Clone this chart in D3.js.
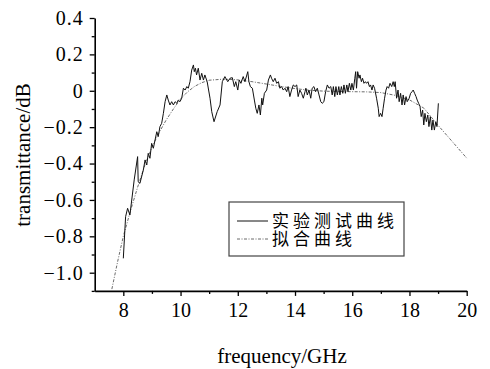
<!DOCTYPE html>
<html>
<head>
<meta charset="utf-8">
<script src="https://cdn.jsdelivr.net/npm/d3@7"></script>
<style>
  body { margin: 0; background: #fff; }
  svg { display: block; }
  .axis path, .axis line { stroke: #000; }
</style>
</head>
<body>
<svg id="chart" width="490" height="369"></svg>
<script>
// measured transmittance (GHz, dB)
const measFreq = [8.00, 8.08, 8.15, 8.23, 8.38, 8.50, 8.52, 8.58, 8.70, 8.76, 8.82, 8.87, 8.93, 8.99, 9.05, 9.11,
    9.17, 9.22, 9.28, 9.34, 9.40, 9.46, 9.52, 9.57, 9.63, 9.69, 9.75, 9.81, 9.87, 9.92, 9.98, 10.04,
    10.10, 10.16, 10.22, 10.27, 10.33, 10.39, 10.45, 10.48, 10.52, 10.56, 10.62, 10.68, 10.74, 10.80, 10.85, 10.93,
    11.03, 11.09, 11.17, 11.28, 11.38, 11.46, 11.55, 11.65, 11.73, 11.81, 11.88, 11.93, 12.00, 12.05, 12.11, 12.19,
    12.25, 12.35, 12.39, 12.44, 12.51, 12.58, 12.63, 12.68, 12.74, 12.79, 12.84, 12.87, 12.93, 13.01, 13.07, 13.14,
    13.18, 13.24, 13.30, 13.36, 13.42, 13.47, 13.53, 13.59, 13.65, 13.71, 13.76, 13.82, 13.88, 13.94, 14.00, 14.06,
    14.11, 14.17, 14.23, 14.29, 14.35, 14.38, 14.43, 14.49, 14.55, 14.60, 14.66, 14.72, 14.78, 14.84, 14.90, 14.95,
    15.01, 15.07, 15.13, 15.19, 15.25, 15.30, 15.34, 15.39, 15.43, 15.48, 15.53, 15.57, 15.62, 15.67, 15.71, 15.76,
    15.81, 15.85, 15.90, 15.95, 15.99, 16.04, 16.09, 16.12, 16.15, 16.19, 16.24, 16.27, 16.32, 16.36, 16.41, 16.46,
    16.50, 16.55, 16.60, 16.64, 16.69, 16.73, 16.78, 16.85, 16.91, 16.94, 16.99, 17.04, 17.08, 17.13, 17.18, 17.22,
    17.27, 17.32, 17.38, 17.43, 17.47, 17.50, 17.55, 17.60, 17.64, 17.69, 17.74, 17.78, 17.83, 17.88, 17.92, 17.99,
    18.04, 18.09, 18.13, 18.18, 18.23, 18.27, 18.32, 18.37, 18.41, 18.46, 18.50, 18.54, 18.59, 18.64, 18.68, 18.73,
    18.78, 18.82, 18.87, 18.92, 18.96, 19.01];
const measValue = [-0.921, -0.692, -0.646, -0.683, -0.490, -0.362, -0.500, -0.509, -0.435, -0.380, -0.408, -0.344, -0.371, -0.289, -0.316, -0.270,
    -0.225, -0.252, -0.197, -0.179, -0.124, -0.060, -0.023, -0.051, -0.078, -0.060, -0.078, -0.060, -0.069, -0.051, -0.060, -0.041,
    0.014, 0.004, 0.023, 0.014, 0.050, 0.114, 0.142, 0.105, 0.124, 0.087, 0.124, 0.059, 0.096, 0.059, 0.087, 0.050,
    -0.041, -0.115, -0.170, -0.115, -0.078, 0.050, 0.078, 0.050, 0.069, 0.072, 0.023, 0.050, 0.004, 0.059, 0.041, 0.078,
    0.050, 0.105, 0.050, 0.023, 0.014, -0.051, -0.096, -0.124, -0.078, -0.133, -0.041, -0.078, -0.014, 0.004, 0.059, 0.087,
    0.069, 0.050, 0.069, 0.041, 0.050, 0.014, 0.023, 0.004, 0.014, -0.005, 0.023, -0.032, 0.004, 0.032, 0.023, 0.032,
    -0.032, 0.004, -0.014, -0.041, -0.005, 0.014, -0.023, 0.004, -0.041, 0.014, 0.023, -0.005, 0.014, -0.023, -0.060, -0.069,
    -0.060, -0.005, 0.032, 0.014, 0.023, -0.023, 0.023, -0.032, 0.023, -0.023, 0.023, -0.023, 0.023, -0.014, 0.032, -0.014,
    0.032, -0.005, 0.041, 0.004, 0.041, 0.004, 0.069, 0.105, 0.014, 0.105, 0.069, 0.087, 0.050, 0.069, 0.041, 0.050,
    0.041, 0.050, 0.023, 0.032, 0.004, 0.032, 0.014, -0.041, -0.096, -0.142, -0.124, -0.142, -0.096, -0.041, 0.004, 0.023,
    0.014, 0.041, 0.023, 0.050, 0.023, 0.050, -0.041, 0.004, -0.060, -0.014, -0.078, -0.023, -0.078, -0.032, -0.060, -0.041,
    -0.014, -0.005, 0.004, -0.014, -0.032, -0.051, -0.069, -0.087, -0.142, -0.106, -0.188, -0.124, -0.170, -0.133, -0.197, -0.142,
    -0.216, -0.161, -0.216, -0.170, -0.197, -0.069];

// fitted curve
const fitFreq = [7.6, 7.8, 8.0, 8.25, 8.5, 8.75, 9.0, 9.25, 9.5, 9.75, 10.0, 10.25, 10.5, 10.75, 11.0, 11.5, 12.0,
    12.5, 13.0, 13.5, 14.0, 14.5, 15.0, 15.5, 16.0, 16.5, 17.0, 17.5, 18.0, 18.5, 19.0, 19.5, 20.0];
const fitValue = [-1.09, -0.94, -0.80, -0.66, -0.53, -0.41, -0.31, -0.23, -0.16, -0.10, -0.045, -0.005, 0.025, 0.045, 0.058, 0.064, 0.06,
    0.05, 0.037, 0.024, 0.012, 0.003, -0.002, -0.004, -0.005, -0.006, -0.01, -0.025, -0.05, -0.095, -0.19, -0.28, -0.37];

const xTicks = [8, 10, 12, 14, 16, 18, 20];
const xMinor = [9, 11, 13, 15, 17, 19];
const yTicks = [0.4, 0.2, 0, -0.2, -0.4, -0.6, -0.8, -1.0];
const yTickLabels = ["0.4", "0.2", "0", "\u22120.2", "\u22120.4", "\u22120.6", "\u22120.8", "\u22121.0"];
const yMinor = [0.3, 0.1, -0.1, -0.3, -0.5, -0.7, -0.9, -1.1];
const legendNames = ["实验测试曲线", "拟合曲线"];

const serif = "'Liberation Serif', 'Times New Roman', 'DejaVu Serif', serif";

const svg = d3.select("#chart");

const xScale = d3.scaleLinear().domain([7, 20]).range([94.7, 466.7]);
const yScale = d3.scaleLinear().domain([-1.1, 0.4]).range([290.9, 18]);

const line = (xs, ys) => d3.line()
    .x((d, i) => xScale(xs[i]))
    .y((d, i) => yScale(ys[i]))(xs);

// minor ticks
svg.append("g")
    .attr("class", "axis")
    .attr("transform", `translate(0,${yScale(-1.1)})`)
    .call(d3.axisBottom(xScale).tickValues(xMinor).tickSize(3).tickSizeOuter(0).tickFormat(""))
    .call(g => g.select(".domain").remove())
    .selectAll("line").attr("stroke-width", 1.3);

svg.append("g")
    .attr("class", "axis")
    .attr("transform", `translate(${xScale(7)},0)`)
    .call(d3.axisLeft(yScale).tickValues(yMinor).tickSize(3).tickSizeOuter(0).tickFormat(""))
    .call(g => g.select(".domain").remove())
    .selectAll("line").attr("stroke-width", 1.3);

// major axes
const xAxis = svg.append("g")
    .attr("class", "axis")
    .attr("transform", `translate(0,${yScale(-1.1)})`)
    .call(d3.axisBottom(xScale).tickValues(xTicks).tickSize(5).tickSizeOuter(0).tickPadding(7));
xAxis.select(".domain").attr("stroke-width", 1.6);
xAxis.selectAll("line").attr("stroke-width", 1.3);

const yAxis = svg.append("g")
    .attr("class", "axis")
    .attr("transform", `translate(${xScale(7)},0)`)
    .call(d3.axisLeft(yScale).tickValues(yTicks).tickSize(5).tickSizeOuter(0).tickPadding(6)
        .tickFormat((d, i) => yTickLabels[i]));
yAxis.select(".domain").attr("stroke-width", 1.6);
yAxis.selectAll("line").attr("stroke-width", 1.3);

svg.selectAll(".axis")
    .attr("font-family", serif)
    .attr("font-size", 20);
svg.selectAll(".axis text")
    .style("font-family", serif)
    .style("font-size", "20px")
    .attr("fill", "#000");
yAxis.selectAll("text").style("letter-spacing", "1px");

// curves
svg.append("path")
    .attr("d", line(fitFreq, fitValue))
    .attr("fill", "none")
    .attr("stroke", "#444")
    .attr("stroke-width", 0.8)
    .attr("stroke-dasharray", "3,1.5,1,1.5");

svg.append("path")
    .attr("d", line(measFreq, measValue))
    .attr("fill", "none")
    .attr("stroke", "#111")
    .attr("stroke-width", 1)
    .attr("stroke-linejoin", "round");

// axis titles
svg.append("text")
    .attr("text-anchor", "middle")
    .attr("transform", `translate(30,155) rotate(-90)`)
    .style("font-family", serif)
    .style("font-size", "21px")
    .text("transmittance/dB");

svg.append("text")
    .attr("text-anchor", "middle")
    .attr("x", 282)
    .attr("y", 363)
    .style("font-family", serif)
    .style("font-size", "21px")
    .text("frequency/GHz");

// legend
const legendGroup = svg.append("g").attr("transform", "translate(229,202)");
legendGroup.append("rect")
    .attr("width", 175)
    .attr("height", 54)
    .attr("fill", "#fff")
    .attr("stroke", "#444")
    .attr("stroke-width", 1.2);

legendGroup.selectAll("line.key")
    .data(legendNames)
    .join("line")
    .attr("class", "key")
    .attr("x1", 8).attr("x2", 39)
    .attr("y1", (d, i) => 19 + i * 18)
    .attr("y2", (d, i) => 19 + i * 18)
    .attr("stroke", (d, i) => i ? "#444" : "#111")
    .attr("stroke-width", (d, i) => i ? 0.8 : 1)
    .attr("stroke-dasharray", (d, i) => i ? "3,1.5,1,1.5" : null);

// both labels in one text block, rows sit tight as in the original
legendGroup.append("text")
    .style("font-family", "'Noto Sans CJK SC', sans-serif")
    .style("font-size", "17px")
    .style("letter-spacing", "4px")
    .selectAll("tspan")
    .data(legendNames)
    .join("tspan")
    .attr("x", 43)
    .attr("y", (d, i) => 19 + i * 18)
    .attr("dy", "0.36em")
    .text(d => d);
</script>
</body>
</html>
